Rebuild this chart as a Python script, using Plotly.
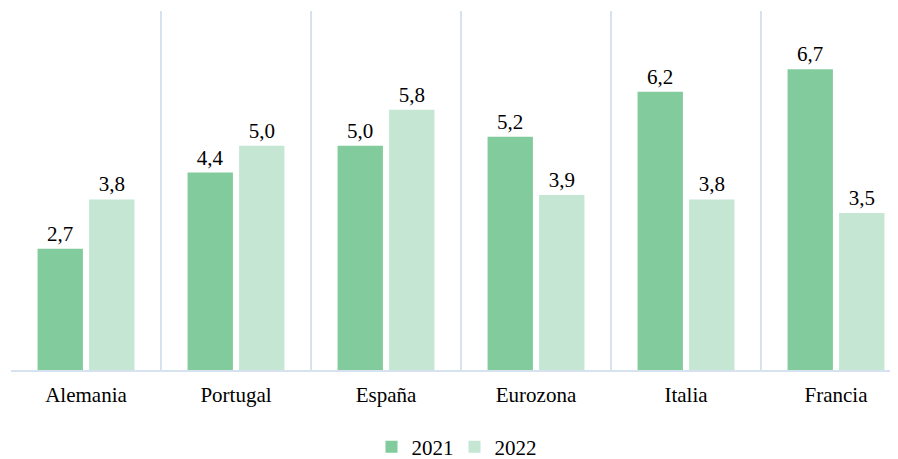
import plotly.graph_objects as go

categories = ["Alemania", "Portugal", "España", "Eurozona", "Italia", "Francia"]
values_2021 = [2.7, 4.4, 5.0, 5.2, 6.2, 6.7]
values_2022 = [3.8, 5.0, 5.8, 3.9, 3.8, 3.5]
series_names = ["2021", "2022"]
colors = ["#82CB9C", "#C4E6D2"]

SERIF = "Liberation Serif, Times New Roman, serif"
FS = 21

def fmt(v):
    return f"{v:.1f}".replace(".", ",")

fig = go.Figure()
for name, vals, col in zip(series_names, [values_2021, values_2022], colors):
    fig.add_trace(go.Bar(
        x=categories, y=vals, name=name, marker=dict(color=col, line=dict(width=0)),
        text=[fmt(v) for v in vals], textposition="outside",
        textfont=dict(family=SERIF, size=FS, color="#000000"),
        cliponaxis=False,
    ))

# page body has an 8px margin
W, H = 890, 451
ml, mt, mb = 3, 3, 89
plot_w = W - ml
fig.update_layout(
    width=W, height=H,
    margin=dict(l=ml, r=0, t=mt, b=mb, autoexpand=False),
    paper_bgcolor="white", plot_bgcolor="white",
    barmode="group", bargap=0.313, bargroupgap=0.12,
    font=dict(family=SERIF, size=FS, color="#000000"),
    uniformtext=dict(minsize=FS, mode="show"),
    showlegend=True,
    legend=dict(orientation="h", x=0.5, xanchor="center", y=-0.215, yanchor="middle",
                font=dict(family=SERIF, size=FS), traceorder="normal", itemwidth=30,
                entrywidth=38, entrywidthmode="pixels", tracegroupgap=0),
)
fig.update_xaxes(
    type="category", range=[-0.5, -0.5 + plot_w / 150.0],
    showgrid=True, gridcolor="#D6E2F0", gridwidth=1.5, tickson="boundaries",
    showline=True, linecolor="#D6E2F0", linewidth=1.5,
    ticks="", ticklabelstandoff=5, tickfont=dict(family=SERIF, size=FS),
    fixedrange=True,
)
fig.update_yaxes(
    range=[0, 8], showgrid=False, showticklabels=False, zeroline=False,
    showline=False, fixedrange=True,
)
fig.write_html("out.html")
